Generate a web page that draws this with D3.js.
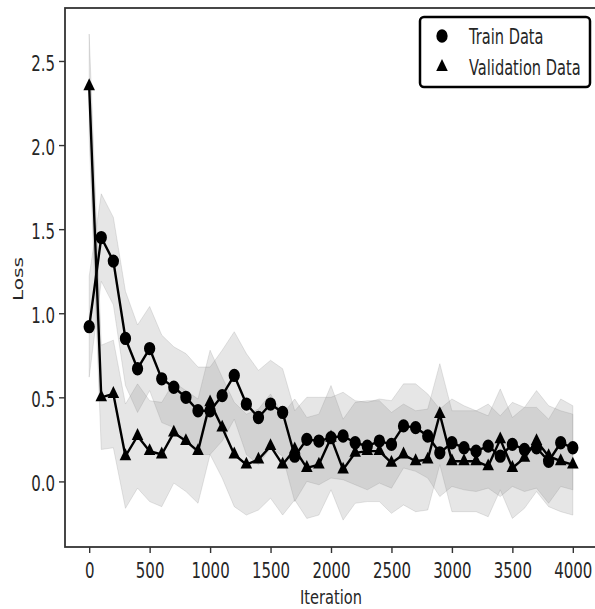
<!DOCTYPE html>
<html>
<head>
<meta charset="utf-8">
<script src="https://cdn.jsdelivr.net/npm/d3@7"></script>
<style>
  body { margin: 0; background: #fff; overflow: hidden; }
  text { font-family: "DejaVu Sans", sans-serif; fill: #262626; }
</style>
</head>
<body>
<div id="chart"></div>
<script>
// data
let iterations = [0, 100, 200, 300, 400, 500, 600, 700, 800, 900, 1000, 1100, 1200, 1300, 1400, 1500, 1600, 1700, 1800, 1900, 2000,
    2100, 2200, 2300, 2400, 2500, 2600, 2700, 2800, 2900, 3000, 3100, 3200, 3300, 3400, 3500, 3600, 3700, 3800, 3900, 4000];
let trainLoss = [0.92, 1.45, 1.31, 0.85, 0.67, 0.79, 0.61, 0.56, 0.50, 0.42, 0.42, 0.51, 0.63, 0.46, 0.38, 0.46, 0.41, 0.15, 0.25, 0.24, 0.26,
    0.27, 0.23, 0.21, 0.24, 0.22, 0.33, 0.32, 0.27, 0.17, 0.23, 0.20, 0.18, 0.21, 0.15, 0.22, 0.19, 0.20, 0.12, 0.23, 0.20];
let trainStd = [0.30, 0.26, 0.26, 0.28, 0.26, 0.25, 0.26, 0.24, 0.26, 0.26, 0.26, 0.27, 0.26, 0.30, 0.28, 0.26, 0.26, 0.27, 0.25, 0.26, 0.24,
    0.26, 0.25, 0.26, 0.25, 0.26, 0.25, 0.26, 0.25, 0.26, 0.26, 0.25, 0.24, 0.25, 0.24, 0.25, 0.25, 0.24, 0.25, 0.26, 0.25];
let valLoss = [2.35, 0.50, 0.52, 0.15, 0.27, 0.18, 0.16, 0.29, 0.24, 0.18, 0.47, 0.32, 0.16, 0.10, 0.13, 0.21, 0.10, 0.19, 0.08, 0.10, 0.26,
    0.07, 0.17, 0.18, 0.18, 0.11, 0.16, 0.12, 0.13, 0.40, 0.12, 0.12, 0.12, 0.09, 0.25, 0.08, 0.14, 0.24, 0.15, 0.12, 0.10];
let valStd = [0.31, 0.31, 0.32, 0.31, 0.31, 0.30, 0.31, 0.30, 0.30, 0.31, 0.31, 0.30, 0.31, 0.30, 0.30, 0.31, 0.30, 0.30, 0.30, 0.30, 0.31,
    0.30, 0.30, 0.30, 0.30, 0.30, 0.30, 0.30, 0.30, 0.30, 0.30, 0.30, 0.30, 0.30, 0.30, 0.30, 0.30, 0.30, 0.30, 0.30, 0.30];
let xTicks = [0, 500, 1000, 1500, 2000, 2500, 3000, 3500, 4000];
let yTicks = [0.0, 0.5, 1.0, 1.5, 2.0, 2.5];
let seriesNames = ["Train Data", "Validation Data"];

let width = 595
let height = 609
let margin = { top: 8, right: -2, bottom: 62, left: 65 };
let stretch = 1.38   // the picture's text is drawn taller than wide

let svg = d3.select("#chart")
    .append("svg")
    .attr("width", width)
    .attr("height", height)

let x = d3.scaleLinear().domain([-200, 4200]).range([margin.left, width - margin.right]);
let y = d3.scaleLinear().domain([-0.39, 2.815]).range([height - margin.bottom, margin.top]);

let train = iterations.map((it, i) => ({ it: it, v: trainLoss[i], s: trainStd[i] }));
let val = iterations.map((it, i) => ({ it: it, v: valLoss[i], s: valStd[i] }));

// shaded bands (mean +- std)
let band = d3.area()
    .x(d => x(d.it))
    .y0(d => y(d.v - d.s))
    .y1(d => y(d.v + d.s));

[train, val].forEach(function (series) {
    svg.append("path")
        .datum(series)
        .attr("d", band)
        .attr("fill", "#808080")
        .attr("fill-opacity", 0.2)
        .attr("stroke", "#808080")
        .attr("stroke-opacity", 0.2)
        .attr("stroke-width", 1)
});

let line = d3.line().x(d => x(d.it)).y(d => y(d.v));

let circle = d3.symbol(d3.symbolCircle, 100);
let triangle = d3.symbol(d3.symbolTriangle, 58);

function drawSeries(series, sym) {
    svg.append("path")
        .datum(series)
        .attr("d", line)
        .attr("fill", "none")
        .attr("stroke", "#000")
        .attr("stroke-width", 2.4)
        .attr("stroke-linejoin", "round")

    svg.append("g")
        .selectAll("path")
        .data(series)
        .enter()
        .append("path")
        .attr("d", sym)
        .attr("transform", d => "translate(" + x(d.it) + "," + y(d.v) + ") scale(1,1.18)")
        .attr("fill", "#000")
}

drawSeries(train, circle)
drawSeries(val, triangle)

// axes
let xAxis = svg.append("g")
    .attr("transform", "translate(0," + (height - margin.bottom) + ")")
    .call(d3.axisBottom(x).tickValues(xTicks).tickSize(6).tickSizeOuter(0).tickFormat(d3.format("d")));

xAxis.selectAll("text")
    .attr("font-size", 15)
    .attr("dy", 0)
    .attr("y", 31 / stretch)
    .attr("transform", "scale(1," + stretch + ")")

let yAxis = svg.append("g")
    .attr("transform", "translate(" + margin.left + ",0)")
    .call(d3.axisLeft(y).tickValues(yTicks).tickSize(6).tickSizeOuter(0).tickFormat(d3.format(".1f")));

yAxis.selectAll("text")
    .attr("font-size", 15)
    .attr("dy", 0)
    .attr("x", -10)
    .attr("y", 9.5 / stretch)
    .attr("transform", "scale(1," + stretch + ")")

svg.selectAll(".domain").remove();
svg.selectAll(".tick line").attr("stroke", "#333").attr("stroke-width", 1.4);

// frame
svg.append("rect")
    .attr("x", margin.left)
    .attr("y", margin.top)
    .attr("width", x.range()[1] - margin.left)
    .attr("height", y.range()[0] - margin.top)
    .attr("fill", "none")
    .attr("stroke", "#333")
    .attr("stroke-width", 1.8)

// axis labels
svg.append("text")
    .attr("transform", "translate(" + (margin.left + x.range()[1]) / 2 + ",604) scale(1," + stretch + ")")
    .attr("text-anchor", "middle")
    .attr("font-size", 14.6)
    .text("Iteration")

svg.append("text")
    .attr("transform", "translate(23,279) rotate(-90) scale(" + stretch + ",1)")
    .attr("text-anchor", "middle")
    .attr("font-size", 14.6)
    .text("Loss")

// legend
let legend = svg.append("g").attr("transform", "translate(420,17)");

legend.append("rect")
    .attr("width", 170)
    .attr("height", 70)
    .attr("rx", 4)
    .attr("fill", "#fff")
    .attr("stroke", "#000")
    .attr("stroke-width", 2.5)

let legendSyms = [circle, triangle];
seriesNames.forEach(function (name, i) {
    let cy = 19 + i * 31;
    legend.append("path")
        .attr("d", legendSyms[i])
        .attr("transform", "translate(22," + cy + ") scale(1,1.18)")
        .attr("fill", "#000")
    legend.append("text")
        .attr("transform", "translate(49," + (cy + 8) + ") scale(1,1.5)")
        .attr("font-size", 14.6)
        .attr("fill", "#000")
        .text(name)
});
</script>
</body>
</html>
